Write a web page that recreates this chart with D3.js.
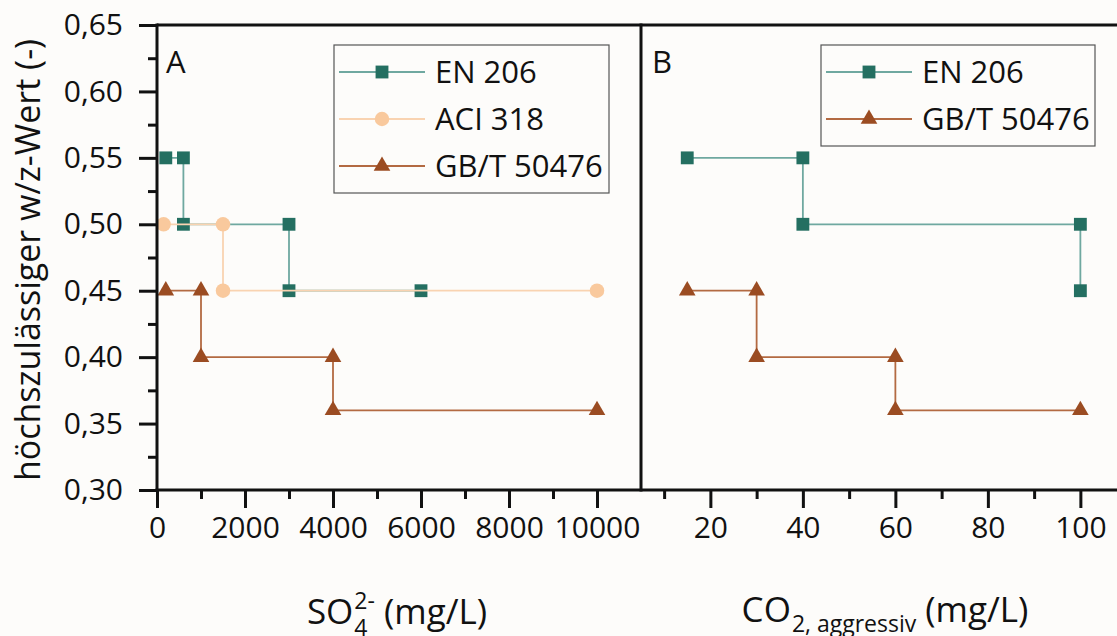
<!DOCTYPE html>
<html><head><meta charset="utf-8">
<script src="https://cdn.jsdelivr.net/npm/d3@7/dist/d3.min.js"></script>
<style>
body{margin:0;background:#fdfcfa;}
svg{display:block;font-family:'Open Sans',sans-serif;}
</style>
</head><body>
<svg id="c" width="1117" height="636"></svg>
<script>
// ---------- data ----------
const yTicks = [0.30, 0.35, 0.40, 0.45, 0.50, 0.55, 0.60, 0.65];
const yTickLabels = ["0,30", "0,35", "0,40", "0,45", "0,50", "0,55", "0,60", "0,65"];
const yMinorTicks = [0.325, 0.375, 0.425, 0.475, 0.525, 0.575, 0.625];
const xTicksA = [0, 2000, 4000, 6000, 8000, 10000];
const xMinorTicksA = [1000, 3000, 5000, 7000, 9000];
const xTicksB = [20, 40, 60, 80, 100];
const xMinorTicksB = [10, 30, 50, 70, 90];

const seriesNames = ["EN 206", "ACI 318", "GB/T 50476"];
// Panel A (SO4 2-)
const en206A_x = [200, 600, 600, 3000, 3000, 6000];
const en206A_y = [0.55, 0.55, 0.50, 0.50, 0.45, 0.45];
const aci318A_x = [150, 1500, 1500, 10000];
const aci318A_y = [0.50, 0.50, 0.45, 0.45];
const gbtA_x = [200, 1000, 1000, 4000, 4000, 10000];
const gbtA_y = [0.45, 0.45, 0.40, 0.40, 0.36, 0.36];
// Panel B (CO2 aggressiv)
const en206B_x = [15, 40, 40, 100, 100];
const en206B_y = [0.55, 0.55, 0.50, 0.50, 0.45];
const gbtB_x = [15, 30, 30, 60, 60, 100];
const gbtB_y = [0.45, 0.45, 0.40, 0.40, 0.36, 0.36];

// ---------- styles ----------
const styles = {
  "EN 206":     {line: "#6fa8a0", fill: "#246f61", sym: d3.symbolSquare, size: 165},
  "ACI 318":    {line: "#f9d3b1", fill: "#f9c99d", sym: d3.symbolCircle, size: 165},
  "GB/T 50476": {line: "#b36a42", fill: "#9b4c22", sym: d3.symbolTriangle, size: 120}
};

const svg = d3.select("#c");
svg.append("rect").attr("width", 1117).attr("height", 636).attr("fill", "#fdfcfa");

const plotTop = 25, plotBottom = 490, leftA = 157, mid = 641;
const y = d3.scaleLinear().domain([0.30, 0.65]).range([plotBottom, plotTop]);
const xA = d3.scaleLinear().domain([0, 11000]).range([leftA, mid]);
const xB = d3.scaleLinear().domain([5, 110]).range([mid, mid + 105 * 4.625]);

const axisColor = "#111";
const FS = 30;

// ---------- series ----------
function drawSeries(x, xs, ys, name) {
  const st = styles[name];
  const pts = xs.map((v, i) => [x(v), y(ys[i])]);
  svg.append("path").attr("d", d3.line()(pts)).attr("fill", "none")
    .attr("stroke", st.line).attr("stroke-width", 1.8);
  svg.selectAll(null).data(pts).enter().append("path")
    .attr("transform", d => `translate(${d[0]},${d[1]})`)
    .attr("d", d3.symbol().type(st.sym).size(st.size))
    .attr("fill", st.fill);
}
drawSeries(xA, en206A_x, en206A_y, "EN 206");
drawSeries(xA, aci318A_x, aci318A_y, "ACI 318");
drawSeries(xA, gbtA_x, gbtA_y, "GB/T 50476");
drawSeries(xB, en206B_x, en206B_y, "EN 206");
drawSeries(xB, gbtB_x, gbtB_y, "GB/T 50476");

// ---------- axes ----------
function styleAxis(g) {
  g.select(".domain").remove();
  g.selectAll(".tick line").attr("stroke", axisColor).attr("stroke-width", 3);
  g.selectAll(".tick text").attr("fill", "#111").attr("font-size", FS)
    .attr("font-family", "'Open Sans',sans-serif");
}
svg.append("g").attr("transform", `translate(${leftA},0)`)
  .call(d3.axisLeft(y).tickValues(yTicks).tickSize(18).tickPadding(16)
    .tickFormat((d, i) => yTickLabels[i]))
  .call(styleAxis);
svg.append("g").attr("transform", `translate(${leftA},0)`)
  .call(d3.axisLeft(y).tickValues(yMinorTicks).tickSize(9).tickFormat(""))
  .call(styleAxis);
svg.append("g").attr("transform", `translate(0,${plotBottom})`)
  .call(d3.axisBottom(xA).tickValues(xTicksA).tickSize(18).tickPadding(9).tickFormat(d3.format("d")))
  .call(styleAxis);
svg.append("g").attr("transform", `translate(0,${plotBottom})`)
  .call(d3.axisBottom(xA).tickValues(xMinorTicksA).tickSize(9).tickFormat(""))
  .call(styleAxis);
svg.append("g").attr("transform", `translate(0,${plotBottom})`)
  .call(d3.axisBottom(xB).tickValues(xTicksB).tickSize(18).tickPadding(9).tickFormat(d3.format("d")))
  .call(styleAxis);
svg.append("g").attr("transform", `translate(0,${plotBottom})`)
  .call(d3.axisBottom(xB).tickValues(xMinorTicksB).tickSize(9).tickFormat(""))
  .call(styleAxis);

// frame lines
const frame = svg.append("g").attr("stroke", axisColor).attr("stroke-width", 3).attr("fill", "none");
frame.append("line").attr("x1", leftA).attr("x2", 1117).attr("y1", plotTop).attr("y2", plotTop);
frame.append("line").attr("x1", leftA - 1.5).attr("x2", 1117).attr("y1", plotBottom).attr("y2", plotBottom);
frame.append("line").attr("x1", leftA).attr("x2", leftA).attr("y1", plotTop - 1.5).attr("y2", plotBottom + 1.5);
frame.append("line").attr("x1", mid).attr("x2", mid).attr("y1", plotTop - 1.5).attr("y2", plotBottom + 1.5);

// panel labels
svg.append("text").attr("x", 166).attr("y", 73).attr("font-size", 31).attr("fill", "#111").text("A");
svg.append("text").attr("x", 652).attr("y", 73).attr("font-size", 31).attr("fill", "#111").text("B");

// ---------- legends ----------
function legend(x0, y0, w, names) {
  const g = svg.append("g");
  g.append("rect").attr("x", x0).attr("y", y0).attr("width", w).attr("height", 47 * names.length + 7)
    .attr("fill", "none").attr("stroke", "#555").attr("stroke-width", 1.2);
  names.forEach((n, i) => {
    const cy = y0 + 27 + 47 * i;
    const st = styles[n];
    g.append("line").attr("x1", x0 + 5).attr("x2", x0 + 91).attr("y1", cy).attr("y2", cy)
      .attr("stroke", st.line).attr("stroke-width", 1.8);
    g.append("path").attr("transform", `translate(${x0 + 48},${cy})`)
      .attr("d", d3.symbol().type(st.sym).size(st.size)).attr("fill", st.fill);
    g.append("text").attr("x", x0 + 101).attr("y", cy).attr("dy", "0.36em")
      .attr("font-size", 31).attr("fill", "#111").text(n);
  });
}
legend(334, 45, 275, seriesNames);
legend(821, 45, 274, [seriesNames[0], seriesNames[2]]);

// ---------- axis titles ----------
svg.append("text").attr("transform", "translate(28,260) rotate(-90)").attr("dy", "0.36em")
  .attr("text-anchor", "middle").attr("font-size", 34).attr("fill", "#111")
  .text("höchszulässiger w/z-Wert (-)");

function measure(txt, fs) {
  const t = svg.append("text").attr("font-size", fs).text(txt);
  const w = t.node().getComputedTextLength();
  t.remove();
  return w;
}
const TF = 35, SF = 23;
function titleSO(cx, base) {
  const w1 = measure("SO", TF);
  const w2 = Math.max(measure("2-", SF), measure("4", SF));
  const w3 = measure("(mg/L)", TF);
  const gap = 9;
  const tot = w1 + 1 + w2 + gap + w3;
  const x0 = cx - tot / 2;
  const t = svg.append("text").attr("y", base).attr("fill", "#111").attr("font-size", TF);
  t.append("tspan").attr("x", x0).text("SO");
  t.append("tspan").attr("x", x0 + w1 + 1).attr("dy", -15).attr("font-size", SF).text("2-");
  t.append("tspan").attr("x", x0 + w1 + 1).attr("dy", 27).attr("font-size", SF).text("4");
  t.append("tspan").attr("x", x0 + w1 + 1 + w2 + gap).attr("dy", -12).text("(mg/L)");
}
function titleCO(cx, base) {
  const w1 = measure("CO", TF);
  const w2 = measure("2, aggressiv", SF);
  const w3 = measure("(mg/L)", TF);
  const gap = 9;
  const tot = w1 + 1 + w2 + gap + w3;
  const x0 = cx - tot / 2;
  const t = svg.append("text").attr("y", base).attr("fill", "#111").attr("font-size", TF);
  t.append("tspan").attr("x", x0).text("CO");
  t.append("tspan").attr("x", x0 + w1 + 1).attr("dy", 10).attr("font-size", SF).text("2, aggressiv");
  t.append("tspan").attr("x", x0 + w1 + 1 + w2 + gap).attr("dy", -10).text("(mg/L)");
}
titleSO(397, 624);
titleCO(885, 622);
</script>
</body></html>
